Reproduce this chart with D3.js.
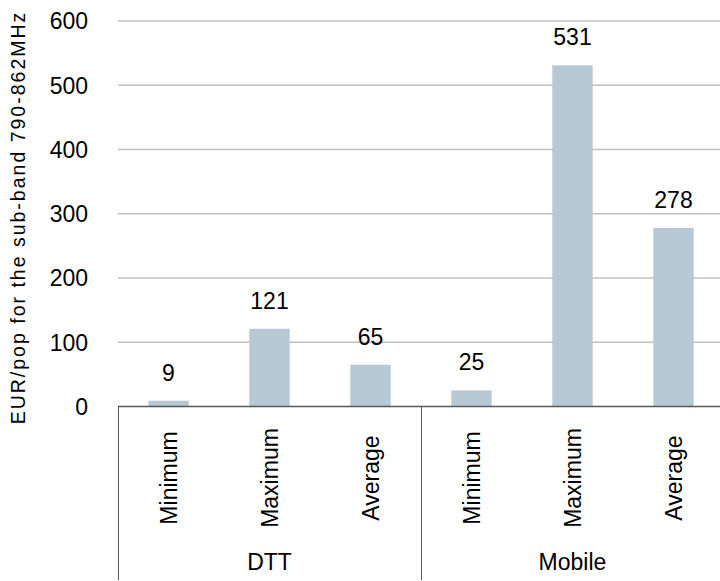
<!DOCTYPE html>
<html>
<head>
<meta charset="utf-8">
<script src="https://cdn.jsdelivr.net/npm/d3@7"></script>
<style>
  body { margin: 0; background: #fff; }
  svg { display: block; font-family: Arial, "Liberation Sans", sans-serif; }
</style>
</head>
<body>
<div id="chart"></div>
<script>
const groups = ['DTT', 'Mobile'];
const measures = ['Minimum', 'Maximum', 'Average'];
const dttValues = [9, 121, 65];
const mobileValues = [25, 531, 278];
const yTicks = [0, 100, 200, 300, 400, 500, 600];
const yTitle = 'EUR/pop for the sub-band 790-862MHz';

const width = 720;
const height = 581;

const data = [];
groups.forEach((g, gi) => {
  const vals = gi === 0 ? dttValues : mobileValues;
  measures.forEach((m, mi) => {
    data.push({ key: g + '|' + m, group: g, measure: m, value: vals[mi] });
  });
});

const svg = d3.select('#chart')
  .append('svg')
  .attr('width', width)
  .attr('height', height);

const x = d3.scaleBand()
  .domain(data.map(d => d.key))
  .range([118, 724])
  .paddingInner(0.6)
  .paddingOuter(0.3);

const y = d3.scaleLinear()
  .domain([0, 600])
  .range([406.5, 21]);

// gridlines
svg.append('g')
  .selectAll('line')
  .data(yTicks.filter(t => t > 0))
  .enter()
  .append('line')
  .attr('x1', 118)
  .attr('x2', 724)
  .attr('y1', d => y(d))
  .attr('y2', d => y(d))
  .style('stroke', '#c0c0c0')
  .style('stroke-width', 1.5);

// y tick labels
svg.append('g')
  .selectAll('text')
  .data(yTicks)
  .enter()
  .append('text')
  .attr('x', 88)
  .attr('y', d => y(d))
  .attr('dy', '0.36em')
  .attr('text-anchor', 'end')
  .text(d => d)
  .style('font-size', '23px')
  .style('fill', '#000');

// bars
svg.append('g')
  .selectAll('rect')
  .data(data)
  .enter()
  .append('rect')
  .attr('x', d => x(d.key))
  .attr('y', d => y(d.value))
  .attr('width', x.bandwidth())
  .attr('height', d => y(0) - y(d.value))
  .style('fill', '#b7c9d5');

// value labels
svg.append('g')
  .selectAll('text')
  .data(data)
  .enter()
  .append('text')
  .attr('x', d => x(d.key) + x.bandwidth() / 2)
  .attr('y', d => y(d.value) - 20)
  .attr('text-anchor', 'middle')
  .text(d => d.value)
  .style('font-size', '23px')
  .style('fill', '#000');

// baseline
svg.append('line')
  .attr('x1', 118)
  .attr('x2', 724)
  .attr('y1', y(0))
  .attr('y2', y(0))
  .style('stroke', '#595959')
  .style('stroke-width', 1.5);

// group separators
const sepX = [118, x(data[3].key) - (x.step() - x.bandwidth()) / 2, 724];
svg.append('g')
  .selectAll('line')
  .data(sepX)
  .enter()
  .append('line')
  .attr('x1', d => Math.round(d) + 0.5)
  .attr('x2', d => Math.round(d) + 0.5)
  .attr('y1', y(0))
  .attr('y2', 580)
  .style('stroke', '#595959')
  .style('stroke-width', 1);

// category labels (rotated)
svg.append('g')
  .selectAll('text')
  .data(data)
  .enter()
  .append('text')
  .attr('transform', d => `translate(${x(d.key) + x.bandwidth() / 2 + 8}, 478) rotate(-90)`)
  .attr('text-anchor', 'middle')
  .text(d => d.measure)
  .style('font-size', '23px')
  .style('fill', '#000');

// group labels
svg.append('g')
  .selectAll('text')
  .data(groups)
  .enter()
  .append('text')
  .attr('x', (d, i) => (sepX[i] + sepX[i + 1]) / 2)
  .attr('y', 570)
  .attr('text-anchor', 'middle')
  .text(d => d)
  .style('font-size', '23px')
  .style('fill', '#000');

// y axis title
svg.append('text')
  .attr('transform', 'translate(25, 217.5) rotate(-90)')
  .attr('text-anchor', 'middle')
  .text(yTitle)
  .style('font-size', '19.5px')
  .style('letter-spacing', '2px')
  .style('fill', '#000');
</script>
</body>
</html>
